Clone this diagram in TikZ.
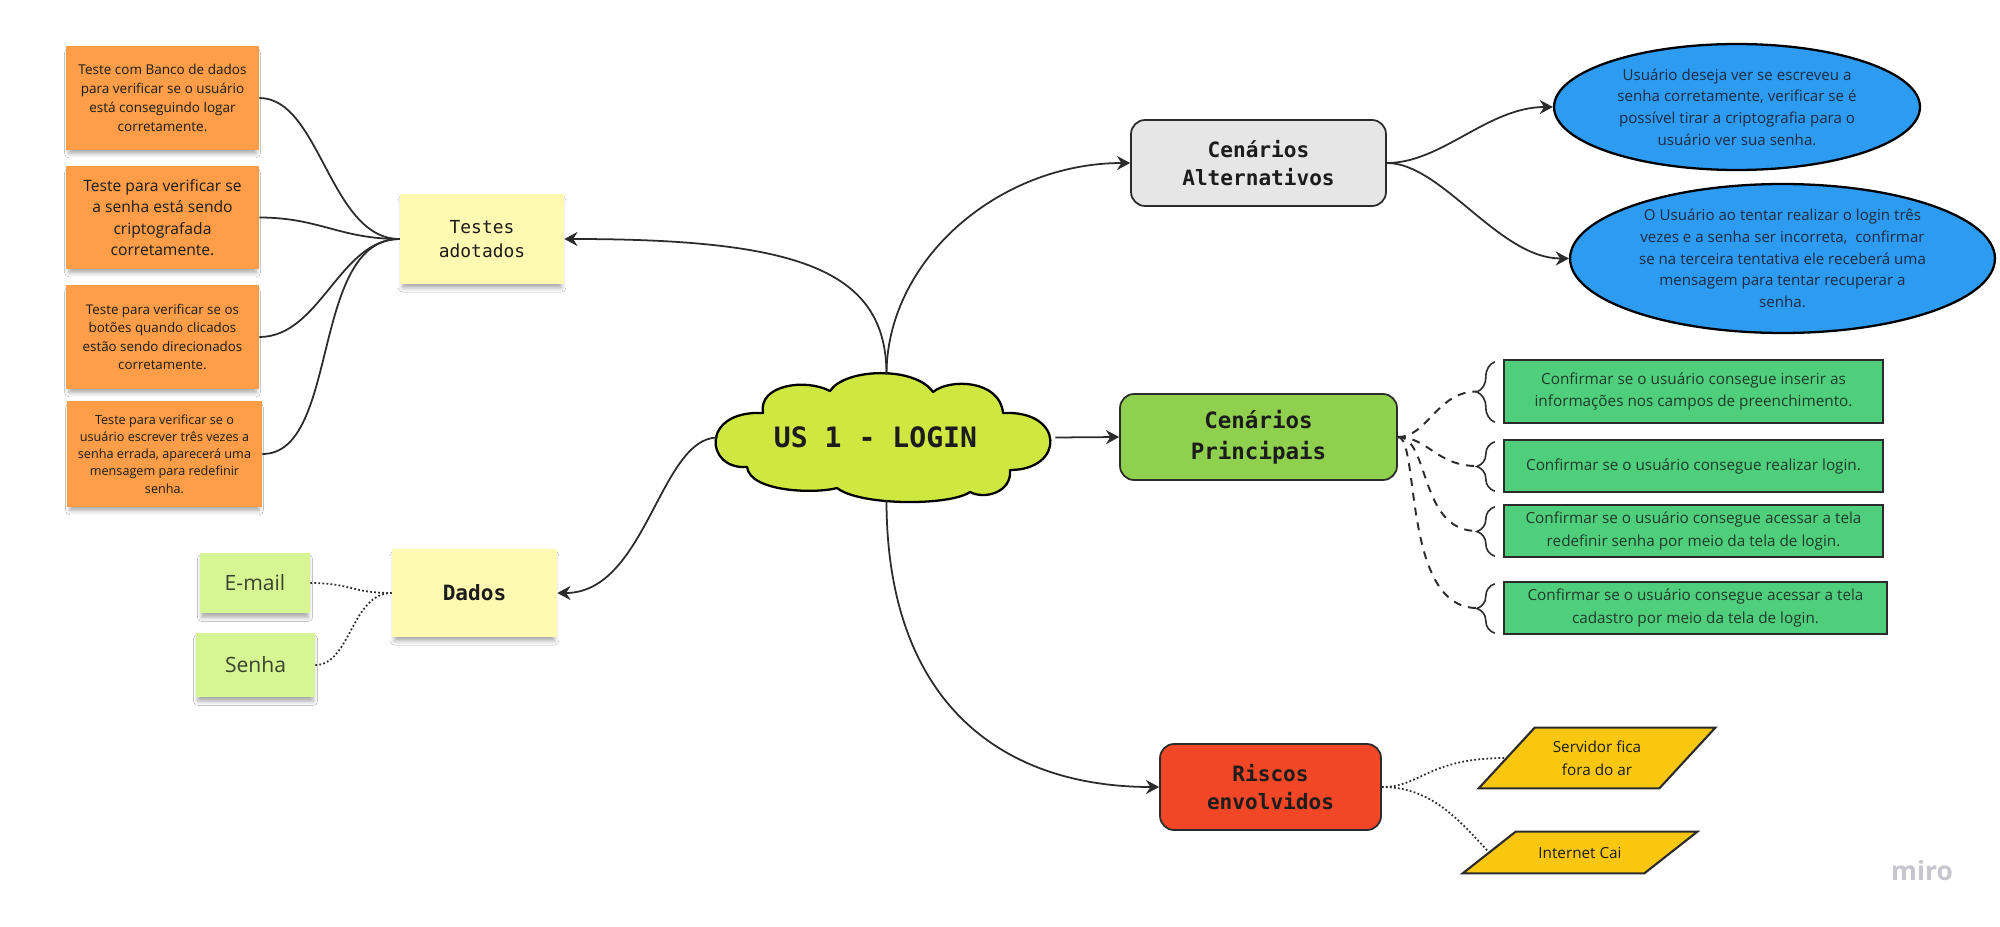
\documentclass[tikz,border=0pt]{standalone}
\usepackage{fontspec}
\setmainfont{Open Sans}
\setmonofont{DejaVu Sans Mono}
\usetikzlibrary{arrows.meta,shadows.blur,decorations.pathreplacing,backgrounds,calc,shapes.geometric}

\definecolor{stickyorange}{HTML}{FF9D48}
\definecolor{stickyyellow}{HTML}{FFF9B1}
\definecolor{stickylime}{HTML}{D5F692}
\definecolor{cloudlime}{HTML}{CEE741}
\definecolor{altgray}{HTML}{E6E6E6}
\definecolor{maingreen}{HTML}{8FD14F}
\definecolor{riskred}{HTML}{F24726}
\definecolor{altblue}{HTML}{2D9BF0}
\definecolor{checkgreen}{HTML}{4FCF7C}
\definecolor{riskyellow}{HTML}{FAC710}
\definecolor{ink}{HTML}{2B2B2B}
\definecolor{textdark}{HTML}{1C1C1C}
\definecolor{navytext}{HTML}{1F2A44}
\definecolor{greentext}{HTML}{203A2B}
\definecolor{olivetext}{HTML}{39432F}
\definecolor{brandgray}{HTML}{C6C6CE}

\newcommand{\fs}[2]{\fontsize{#1pt}{#2pt}\selectfont}

\tikzset{
  sticky/.style={rectangle, draw=none, align=center, text=textdark, inner sep=0pt,
    blur shadow={shadow xshift=0pt, shadow yshift=-3pt, shadow blur radius=2.5pt,
      shadow opacity=35, shadow scale=0.97}},
  orangenote/.style={sticky, fill=stickyorange},
  yellownote/.style={sticky, fill=stickyyellow, font=\ttfamily\fs{10.2}{14}},
  limenote/.style={sticky, fill=stickylime, text=olivetext, font=\fs{12}{15}},
  topicbox/.style={rectangle, rounded corners=8pt, draw=ink, line width=1pt,
    align=center, text=textdark, inner sep=0pt, minimum width=5.1cm, minimum height=1.72cm,
    font=\ttfamily\bfseries\fs{12}{16}},
  bubble/.style={ellipse, draw=black, line width=1.3pt, fill=altblue, align=center,
    text=navytext, inner sep=0pt, font=\fs{8.6}{12.3}},
  checkbox/.style={rectangle, draw=ink, line width=1.4pt, fill=checkgreen, align=center,
    text=greentext, inner sep=0pt, minimum width=7.58cm, minimum height=1.04cm,
    font=\fs{8.7}{13}},
  riskbox/.style={rectangle, align=center, text=textdark, inner sep=0pt, font=\fs{8.7}{13}},
  riskshape/.style={draw=ink, line width=1.2pt, fill=riskyellow, line join=miter},
  conn/.style={draw=ink, line width=1pt},
  arr/.style={conn, -{Stealth[length=7.5pt,width=8pt,inset=2.5pt]}},
  dashconn/.style={draw=ink, line width=1.1pt, dash pattern=on 4.5pt off 4pt},
  dotconn/.style={draw=ink, line width=1pt, dash pattern=on 1pt off 1.3pt},
  bracestyle/.style={draw=ink, line width=0.9pt, decorate,
    decoration={brace, amplitude=0.36cm, aspect=0.5}}
}

\begin{document}
\begin{tikzpicture}[x=0.02cm,y=-0.02cm]
\useasboundingbox (0,0) rectangle (2000,926);

% ---- central cloud outline
\draw[fill=cloudlime, draw=black, line width=1.3pt, line join=round]
  (747,467) .. controls (705,470) and (700,410) .. (763,413)
  .. controls (758,385) and (805,378) .. (830,391)
  .. controls (845,368) and (915,366) .. (933,392)
  .. controls (950,378) and (1000,380) .. (1003,413)
  .. controls (1065,410) and (1065,470) .. (1010,470)
  .. controls (1012,492) and (985,500) .. (970,492)
  .. controls (950,506) and (860,506) .. (837,488)
  .. controls (815,494) and (750,492) .. (747,467) -- cycle;
\node[minimum width=6.74cm, minimum height=2.5cm, inner sep=0pt] (cloud) at (886.5,437.5) {};
\node[font=\ttfamily\bfseries\fs{16}{18}, text=textdark] (cloudlabel)
  at ([xshift=-0.22cm]cloud.center) {US 1 - LOGIN};

% ---- tests column
\node[orangenote, minimum width=3.86cm, minimum height=2.08cm, font=\fs{7.7}{10.8}] (o1) at (162.5,98)
  {Teste com Banco de dados\\para verificar se o usuário\\está conseguindo logar\\corretamente.};
\node[orangenote, minimum width=3.86cm, minimum height=2.06cm, font=\fs{8.9}{12.2}] (o2) at (162.5,217.5)
  {Teste para verificar se\\a senha está sendo\\criptografada\\corretamente.};
\node[orangenote, minimum width=3.86cm, minimum height=2.08cm, font=\fs{7.6}{10.4}] (o3) at (162.5,337)
  {Teste para verificar se os\\botões quando clicados\\estão sendo direcionados\\corretamente.};
\node[orangenote, minimum width=3.9cm, minimum height=2.12cm, font=\fs{7.2}{9.8}] (o4) at (164.5,454)
  {Teste para verificar se o\\usuário escrever três vezes a\\senha errada, aparecerá uma\\mensagem para redefinir\\senha.};
\node[yellownote, minimum width=3.28cm, minimum height=1.8cm] (testes) at (482,239) {Testes\\adotados};

% ---- data column
\node[yellownote, minimum width=3.3cm, minimum height=1.76cm, font=\ttfamily\bfseries\fs{12}{14}] (dados) at (474.5,593) {Dados};
\node[limenote, minimum width=2.2cm, minimum height=1.2cm] (email) at (255,583) {E-mail};
\node[limenote, minimum width=2.38cm, minimum height=1.28cm] (senha) at (255.5,665) {Senha};

% ---- alternative scenarios
\node[topicbox, fill=altgray] (alt) at (1258.5,163) {Cenários\\Alternativos};
\node[bubble, minimum width=7.32cm, minimum height=2.52cm] (e1) at (1737,107)
  {Usuário deseja ver se escreveu a\\senha corretamente, verificar se é\\possível tirar a criptografia para o\\usuário ver sua senha.};
\node[bubble, minimum width=8.5cm, minimum height=2.98cm] (e2) at (1782.5,258.5)
  {O Usuário ao tentar realizar o login três\\vezes e a senha ser incorreta,~ confirmar\\se na terceira tentativa ele receberá uma\\mensagem para tentar recuperar a\\senha.};

% ---- main scenarios
\node[topicbox, fill=maingreen, minimum width=5.54cm, font=\ttfamily\bfseries\fs{12.8}{17.6}] (princ) at (1258.5,437) {Cenários\\Principais};
\node[checkbox, minimum height=1.26cm] (g1) at (1693.5,391.5)
  {Confirmar se o usuário consegue inserir as\\informações nos campos de preenchimento.};
\node[checkbox] (g2) at (1693.5,466) {Confirmar se o usuário consegue realizar login.};
\node[checkbox] (g3) at (1693.5,531)
  {Confirmar se o usuário consegue acessar a tela\\redefinir senha por meio da tela de login.};
\node[checkbox, minimum width=7.66cm] (g4) at (1695.5,608)
  {Confirmar se o usuário consegue acessar a tela\\cadastro por meio da tela de login.};

\foreach \g/\b in {g1/b1,g2/b2,g3/b3,g4/b4}{
  \draw[bracestyle] ([xshift=-0.16cm,yshift=0.04cm]\g.south west) -- ([xshift=-0.16cm,yshift=-0.06cm]\g.north west);
  \coordinate (\b) at ([xshift=-0.52cm]\g.west);
}

% ---- risks
\node[topicbox, fill=riskred, minimum width=4.42cm] (riscos) at (1270.5,787) {Riscos\\envolvidos};
\node[riskbox, minimum width=4.72cm, minimum height=1.2cm] (p1) at (1597,758) {Servidor fica\\fora do ar};
\node[riskbox, minimum width=4.68cm, minimum height=0.82cm] (p2) at (1580,852.5) {Internet Cai};
\begin{scope}[on background layer]
  \fill[white] (0,0) rectangle (2000,926);
  \draw[riskshape] ([xshift=1.12cm]p1.north west) -- (p1.north east)
    -- ([xshift=-1.12cm]p1.south east) -- (p1.south west) -- cycle;
  \draw[riskshape] ([xshift=1.06cm]p2.north west) -- (p2.north east)
    -- ([xshift=-1.06cm]p2.south east) -- (p2.south west) -- cycle;
\end{scope}
\coordinate (p1w) at ($(p1.south west)!0.5!([xshift=1.12cm]p1.north west)$);
\coordinate (p2w) at ($(p2.south west)!0.5!([xshift=1.06cm]p2.north west)$);

\node[font=\bfseries\fs{15}{18}, text=brandgray] (brand) at (1922,871) {miro};

% ---- connectors from the cloud
\draw[arr] (cloud.north) .. controls +(0,-105) and +(234,0) .. (testes.east);
\draw[arr] (cloud.north) .. controls +(0,-115) and +(-131,0) .. (alt.west);
\draw[arr] (cloud.west) .. controls +(-58,0) and +(89,0) .. (dados.east);
\draw[arr] (cloud.east) -- (princ.west);
\draw[arr] (cloud.south) .. controls +(0,200) and +(-160,0) .. (riscos.west);

% ---- tests to their notes
\draw[conn] (o1.east) .. controls +(61,0) and +(-70,0) .. (testes.west);
\draw[conn] (o2.east) .. controls +(60,0) and +(-60,0) .. (testes.west);
\draw[conn] (o3.east) .. controls +(61,0) and +(-60,0) .. (testes.west);
\draw[conn] (o4.east) .. controls +(78,0) and +(-90,0) .. (testes.west);

% ---- data fields
\draw[dotconn] (email.east) .. controls +(40,0) and +(-40,0) .. (dados.west);
\draw[dotconn] (senha.east) .. controls +(35,0) and +(-40,0) .. (dados.west);

% ---- alternative scenarios
\draw[arr] (alt.east) .. controls +(55,0) and +(-65,0) .. (e1.west);
\draw[arr] (alt.east) .. controls +(55,0) and +(-70,0) .. (e2.west);

% ---- main scenarios
\draw[dashconn] (princ.east) .. controls +(30,0) and +(-40,0) .. (b1);
\draw[dashconn] (princ.east) .. controls +(30,0) and +(-40,0) .. (b2);
\draw[dashconn] (princ.east) .. controls +(32,0) and +(-58,0) .. (b3);
\draw[dashconn] (princ.east) .. controls +(22,0) and +(-75,0) .. (b4);

% ---- risks
\draw[dotconn] (riscos.east) .. controls +(40,0) and +(-80,0) .. (p1w);
\draw[dotconn] (riscos.east) .. controls +(50,0) and +(-30,-32) .. (p2w);
\end{tikzpicture}
\end{document}
